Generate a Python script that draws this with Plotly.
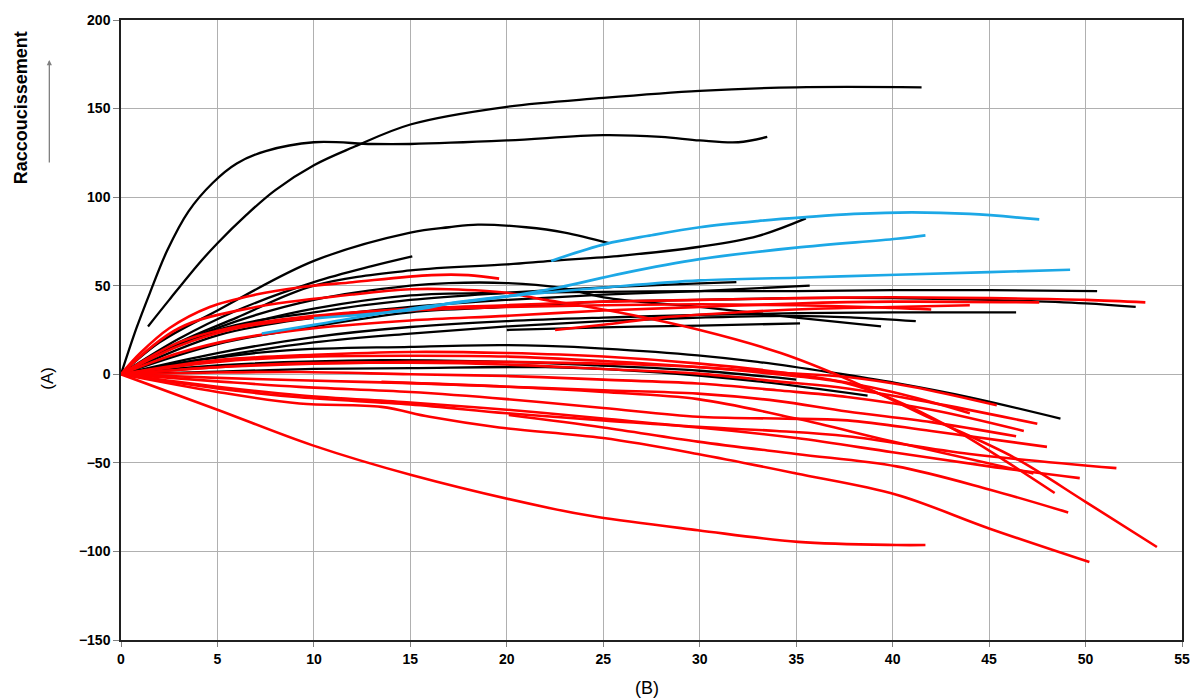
import plotly.graph_objects as go

# ---------------- data ----------------
black_x = [
    [0, 0.8, 1.5, 2.4, 3.5, 4.75, 6, 7.5, 10, 13, 15, 20, 25, 28, 30, 32, 33.5],
    [1.4, 2.5, 4, 5, 6.5, 8, 10, 12, 15, 20, 25, 30, 35, 41.5],
    [0, 2, 5, 10, 15, 17, 18.5, 21, 23, 25.3],
    [0, 3, 6, 10, 13, 15.1],
    [0, 3, 6, 10, 15, 20, 22.3, 26, 30, 33, 35.5],
    [0, 3, 6, 10, 15, 17, 20, 22.7, 25.3, 30, 35, 39.4],
    [0, 3, 6, 10, 15, 20, 25, 30, 35, 40, 45, 50.6],
    [0, 5, 10, 15, 20, 25, 30, 35, 40, 45, 50, 52.6],
    [0, 5, 10, 15, 20, 25, 30, 35, 40, 46.4],
    [0, 5, 10, 15, 20, 25, 30, 35, 38, 41.2],
    [20, 25, 30, 35.2],
    [0, 5, 10, 15, 20, 25, 31.9],
    [0, 5, 10, 15, 20, 25, 30, 35.7],
    [0, 4, 8.6, 15, 19.6, 22, 25, 29.9, 33, 36.8, 40.2, 44, 48.7],
    [0, 5, 10, 15, 22, 28, 33, 38.7],
    [0, 5, 13.5, 20, 24.7, 30, 35],
]
black_y = [
    [0, 26, 46, 70, 92, 108, 119, 126, 131, 130, 130, 132, 135, 134, 132, 131, 134],
    [27, 42, 62, 74, 90, 104, 118, 128, 141, 151, 156, 160, 162, 162],
    [0, 18, 36, 64, 80, 83, 84.5, 83, 80, 74],
    [0, 20, 36, 52, 61, 66.5],
    [0, 18, 32, 50, 58.6, 62, 64, 67, 72, 78, 88],
    [0, 17, 30, 42, 50, 51.5, 51.5, 49, 43, 38, 32, 27],
    [0, 17, 27, 37, 44.5, 46, 46.5, 47, 47, 47.5, 47.5, 47],
    [0, 17, 27, 35, 38, 41, 42, 43, 43, 42, 40, 38],
    [0, 12, 21, 26.7, 30, 32, 33.5, 34.5, 35, 35],
    [0, 10, 18, 23, 27, 30, 32, 33, 32, 30],
    [25, 26.5, 27.5, 28.7],
    [0, 25, 35, 42, 46, 49, 52],
    [0, 22, 32, 38, 42, 45, 47, 50],
    [0, 8, 13.5, 15.5, 16.5, 16, 14.5, 10.7, 7, 1, -5, -13, -25],
    [0, 1.5, 3, 3.5, 4, 1, -4, -12],
    [0, 5, 8, 7, 5, 2, -3],
]

red_x = [
    [0, 1, 2.5, 4.6, 7, 9.2, 12, 16.1, 18, 19.6],
    [0, 3, 6, 10, 15, 20, 25, 30, 35, 40, 45, 50, 53.1],
    [0, 3, 6, 10, 15, 20, 25, 30, 35, 40, 47.6],
    [0, 3, 6, 10, 15, 20, 25, 30, 35, 40, 42],
    [22.5, 25, 28, 32, 36, 40, 44],
    [0, 3, 7, 12, 15, 17, 20, 22, 25.3, 30, 34.2, 37.7, 42, 46.3, 50, 53.7],
    [0, 5, 9.25, 15, 20, 25, 29.9, 34, 37.65, 41, 45.4],
    [0, 5, 9.25, 15, 20, 25, 29.9, 34, 37.65, 42, 47.5],
    [0, 5, 9.25, 15, 20, 25, 29.9, 34, 37.65, 42, 46.8],
    [0, 5, 9.25, 15, 20, 25, 29.9, 34, 37.65, 42, 46.4],
    [0, 5, 9.25, 15, 20, 25, 29.9, 34, 37.65, 42, 48],
    [0, 5, 9.25, 15, 20, 25, 29.9, 34, 37.65, 44, 51.6],
    [0, 5, 9.25, 13.5, 16, 19.6, 25, 29.9, 35, 40.2, 45, 50.2],
    [0, 5, 10, 15, 20, 25, 30, 34, 37.6, 40, 43, 46, 48.4],
    [20.1, 25, 29.9, 35, 40.2, 45, 49.1],
    [0, 5, 9.25, 15, 20, 25, 29.9, 35, 40, 45, 49.7],
    [13.5, 20, 25, 29.9, 35, 40, 47.3],
    [0, 5, 10, 15, 20, 25, 30, 35, 40, 44],
    [0, 5, 9.9, 15.1, 22.2, 24.7, 29.9, 35.1, 40.2, 41.7],
]
red_y = [
    [0, 12, 26, 38, 45, 49, 52, 56, 56, 54],
    [0, 18, 27, 33, 37, 39, 41, 42, 43, 43.5, 43, 42, 40.6],
    [0, 12, 20, 26, 30.4, 33, 36, 38, 40, 41, 40.6],
    [0, 16, 26, 32, 36, 38, 39, 39.5, 39, 37.5, 36.6],
    [25, 28, 32, 35, 37, 38, 39],
    [0, 26, 38, 45, 48, 48, 46, 42, 36, 25, 12, -3, -25, -47, -72, -97.5],
    [0, 7, 9.8, 10.5, 10, 7.5, 4.1, 1, -1.5, -7, -17.5],
    [0, 4, 6.2, 6.5, 5.5, 3, 0.4, -4, -8, -16, -27.9],
    [0, 1, 1.3, 0, -1, -3, -5.2, -9, -12.8, -20, -32],
    [0, -2, -3.4, -5, -7, -9, -10.9, -15, -21, -27, -35],
    [0, -4, -7.1, -10, -14, -19, -24, -25, -26, -32, -41],
    [0, -7, -11.8, -16, -20, -25, -29.7, -32, -35, -45, -53],
    [0, -10, -16.5, -18.4, -24, -30, -36, -45, -56, -68, -87, -106],
    [0, 4, 6, 7, 7, 6, 4, 0, -5, -14, -30, -50, -67],
    [-23, -30, -38, -45, -52, -65, -78],
    [0, -8, -13, -17, -22, -26, -30, -36, -44, -52, -58.6],
    [-4.3, -7, -10, -14, -25, -38, -56],
    [0, 8, 11, 12.6, 12, 10, 6, 0, -10, -22],
    [0, -20, -40, -57, -75.5, -80.6, -88, -94.6, -96.4, -96.4],
]

blue_x = [
    [22.3, 25.1, 27.5, 30, 33, 35.5, 38, 41, 44, 47.6],
    [7.3, 10, 15, 20, 22.7, 26, 30, 35, 40.2, 41.7],
    [10, 15.6, 17, 20, 25.1, 30, 35, 40.2, 45, 49.2],
]
blue_y = [
    [64, 73.5, 78.5, 83, 86.5, 88.7, 90.5, 91.4, 90.5, 87.4],
    [23, 27.9, 37, 44, 49, 57, 65, 71.5, 76.5, 78.4],
    [31.6, 37, 40, 44, 49, 53, 54.5, 56.2, 57.7, 59],
]

x_ticks = [0, 5, 10, 15, 20, 25, 30, 35, 40, 45, 50, 55]
y_ticks = [-150, -100, -50, 0, 50, 100, 150, 200]

# ---------------- figure ----------------
fig = go.Figure()

def add_group(xs, ys, color, width):
    for xv, yv in zip(xs, ys):
        fig.add_trace(go.Scatter(
            x=xv, y=yv, mode="lines",
            line=dict(color=color, width=width, shape="spline", smoothing=1.0),
            showlegend=False, hoverinfo="skip"))

add_group(black_x, black_y, "#000000", 2.3)
add_group(red_x, red_y, "#ff0000", 2.6)
add_group(blue_x, blue_y, "#1ca8e6", 2.7)

FONT = "Liberation Sans, Arial, sans-serif"
tick_font = dict(family=FONT, size=14, color="#000000", weight=700)

fig.update_layout(
    width=1202, height=699,
    margin=dict(l=121, r=15, t=19, b=59),
    paper_bgcolor="white", plot_bgcolor="white",
    xaxis=dict(range=[0, 55], tickvals=x_ticks, showgrid=True, gridcolor="#b0b0b0", gridwidth=1,
               showline=True, linecolor="#202020", linewidth=1.5, mirror=True,
               ticks="outside", ticklen=5, tickcolor="#808080", tickfont=tick_font,
               zeroline=False, fixedrange=True),
    yaxis=dict(range=[-150, 200], tickvals=y_ticks, showgrid=True, gridcolor="#b0b0b0", gridwidth=1,
               showline=True, linecolor="#202020", linewidth=1.5, mirror=True,
               ticks="outside", ticklen=6, tickcolor="#808080", tickfont=tick_font,
               zeroline=False, fixedrange=True),
    annotations=[
        dict(text="(A)", x=(47 - 121) / 1066, y=(640 - 378) / 621, xref="paper", yref="paper",
             xanchor="center", yanchor="middle", showarrow=False, textangle=-90,
             font=dict(family=FONT, size=17, color="#000000")),
        dict(text="(B)", x=(649 - 121) / 1066, y=(640 - 688) / 621, xref="paper", yref="paper",
             xanchor="center", yanchor="middle", showarrow=False,
             font=dict(family=FONT, size=18, color="#000000")),
        dict(text="Raccoucissement", x=(20 - 121) / 1066, y=(640 - 107) / 621, xref="paper", yref="paper",
             xanchor="center", yanchor="middle", showarrow=False, textangle=-90,
             font=dict(family=FONT, size=18, color="#000000", weight=700)),
        dict(text="", x=(49 - 121) / 1066, y=(640 - 59) / 621, xref="paper", yref="paper",
             showarrow=True, ax=0, ay=104, arrowhead=2, arrowsize=0.8, arrowwidth=1.3,
             arrowcolor="#808080"),
    ],
)

fig.write_html("out.html")
